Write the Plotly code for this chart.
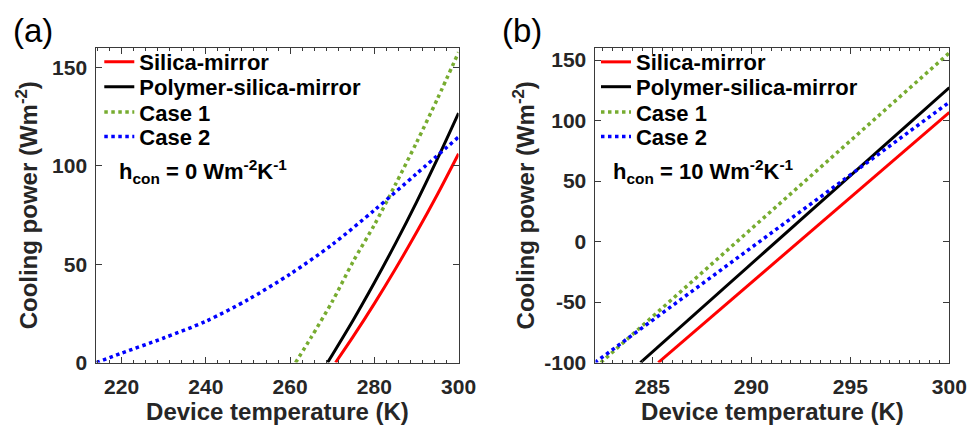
import plotly.graph_objects as go

# ---------------- data ----------------
series_names = ["Silica-mirror", "Polymer-silica-mirror", "Case 1", "Case 2"]

# panel (a): h_con = 0
a_T_silica = [270.8, 275, 280, 285, 290, 295, 300]
a_P_silica = [0, 13.3, 30.0, 47.6, 66.1, 85.6, 106.2]
a_T_polymer = [268.9, 275, 280, 285, 290, 295, 300]
a_P_polymer = [0, 21.7, 40.6, 60.5, 81.5, 103.7, 126.9]
a_T_case1 = [261.3, 265, 270, 275, 280, 285, 290, 295, 300]
a_P_case1 = [0, 12.8, 31.0, 51.5, 70.0, 90.5, 111.8, 134.2, 157.8]
a_T_case2 = [214.0, 220, 230, 240, 250, 260, 270, 280, 290, 300]
a_P_case2 = [0, 4.8, 12.5, 21.0, 32.0, 45.0, 60.0, 77.5, 96.0, 114.7]

# panel (b): h_con = 10
b_T_silica = [285.3, 290, 295, 300]
b_P_silica = [-100, -33.9, 36.4, 106.7]
b_T_polymer = [284.4, 290, 295, 300]
b_P_polymer = [-100, -18.4, 54.4, 127.3]
b_T_case1 = [282.4, 285, 290, 295, 300]
b_P_case1 = [-100, -62.2, 10.6, 83.3, 156.0]
b_T_case2 = [282.1, 285, 290, 295, 300]
b_P_case2 = [-100, -65.1, -5.0, 55.1, 115.2]

a_xticks = [220, 240, 260, 280, 300]
a_yticks = [0, 50, 100, 150]
b_xticks = [285, 290, 295, 300]
b_yticks = [-100, -50, 0, 50, 100, 150]

# ---------------- styling ----------------
W, H = 979, 425
FONT = "Liberation Sans, Arial, sans-serif"
AX = "#3a3a3a"
colors = ["#FF0000", "#000000", "#77AC30", "#0000FF"]
dashes = ["solid", "solid", "dot", "dot"]
widths = [3, 3, 3.5, 3.5]
legend_rows_px = [55.5, 81, 107, 132]


def px_x(p):
    return p / W


def px_y(p):
    return 1 - p / H


fig = go.Figure()

panel_a = [(a_T_silica, a_P_silica), (a_T_polymer, a_P_polymer),
           (a_T_case1, a_P_case1), (a_T_case2, a_P_case2)]
panel_b = [(b_T_silica, b_P_silica), (b_T_polymer, b_P_polymer),
           (b_T_case1, b_P_case1), (b_T_case2, b_P_case2)]

legend_font = dict(family=FONT, size=22, color="black", weight="bold")
layout_legends = {}
for i, (xs, ys) in enumerate(panel_a):
    lg = "legend" if i == 0 else f"legend{i + 1}"
    fig.add_trace(go.Scatter(x=xs, y=ys, mode="lines", name=f"<b>{series_names[i]}</b>",
                             line=dict(color=colors[i], dash=dashes[i], width=widths[i],
                                       shape="spline", smoothing=0.8),
                             xaxis="x", yaxis="y", legend=lg))
    layout_legends[lg] = dict(x=px_x(93), y=px_y(legend_rows_px[i]), xanchor="left", yanchor="middle",
                              bgcolor="rgba(0,0,0,0)", borderwidth=0, font=legend_font)
for i, (xs, ys) in enumerate(panel_b):
    lg = f"legend{i + 5}"
    fig.add_trace(go.Scatter(x=xs, y=ys, mode="lines", name=f"<b>{series_names[i]}</b>",
                             line=dict(color=colors[i], dash=dashes[i], width=widths[i]),
                             xaxis="x2", yaxis="y2", legend=lg))
    layout_legends[lg] = dict(x=px_x(599), y=px_y(legend_rows_px[i]), xanchor="left", yanchor="middle",
                              bgcolor="rgba(0,0,0,0)", borderwidth=0, font=legend_font)

dom_y = [px_y(364), px_y(41)]
tickfont = dict(family=FONT, size=21, color="#262626", weight="bold")
titlefont = dict(family=FONT, size=24, color="#262626", weight="bold")

common = dict(showline=True, linecolor=AX, linewidth=1, mirror="allticks",
              ticks="inside", ticklen=6, tickcolor=AX, tickwidth=1,
              showgrid=False, zeroline=False, tickfont=tickfont)


def bold(vals):
    return [f"<b>{v}</b>" for v in vals]


fig.update_layout(
    width=W, height=H,
    margin=dict(l=0, r=0, t=0, b=0),
    paper_bgcolor="white", plot_bgcolor="white",
    showlegend=True,
    xaxis=dict(domain=[px_x(90), px_x(459)], range=[214.0, 300],
               tickvals=a_xticks, ticktext=bold(a_xticks), ticklabelstandoff=5,
               minor=dict(ticks="inside", ticklen=3, tickcolor=AX, tick0=220, dtick=20 / 7),
               title=dict(text="<b>Device temperature (K)</b>", font=titlefont, standoff=3),
               anchor="y", **common),
    yaxis=dict(domain=dom_y, range=[0, 160],
               tickvals=a_yticks, ticktext=bold(a_yticks), ticklabelstandoff=4,
               title=dict(text="<b>Cooling power (Wm<sup>-2</sup>)</b>", font=titlefont, standoff=7),
               anchor="x", **common),
    xaxis2=dict(domain=[px_x(598.5), px_x(959)], range=[282.13, 300],
                tickvals=b_xticks, ticktext=bold(b_xticks), ticklabelstandoff=5,
                minor=dict(ticks="inside", ticklen=3, tickcolor=AX, tick0=285, dtick=0.5),
                title=dict(text="<b>Device temperature (K)</b>", font=titlefont, standoff=3),
                anchor="y2", **common),
    yaxis2=dict(domain=dom_y, range=[-100, 160],
                tickvals=b_yticks, ticktext=bold(b_yticks), ticklabelstandoff=4,
                title=dict(text="<b>Cooling power (Wm<sup>-2</sup>)</b>", font=titlefont, standoff=2),
                anchor="x2", **common),
    **layout_legends,
)

ann_font = dict(family=FONT, size=22, color="black", weight="bold")
fig.add_annotation(text="<b>h<sub>con</sub> = 0 Wm<sup>-2</sup>K<sup>-1</sup></b>", xref="paper", yref="paper",
                   x=px_x(111), y=px_y(168), xanchor="left", yanchor="middle", showarrow=False, font=ann_font)
fig.add_annotation(text="<b>h<sub>con</sub> = 10 Wm<sup>-2</sup>K<sup>-1</sup></b>", xref="paper", yref="paper",
                   x=px_x(614), y=px_y(168), xanchor="left", yanchor="middle", showarrow=False, font=ann_font)
fig.add_annotation(text="(a)", xref="paper", yref="paper", x=px_x(3), y=px_y(23),
                   xanchor="left", yanchor="middle", showarrow=False,
                   font=dict(family=FONT, size=33, color="black"))
fig.add_annotation(text="(b)", xref="paper", yref="paper", x=px_x(501), y=px_y(23),
                   xanchor="left", yanchor="middle", showarrow=False,
                   font=dict(family=FONT, size=33, color="black"))

fig.write_html("out.html")
